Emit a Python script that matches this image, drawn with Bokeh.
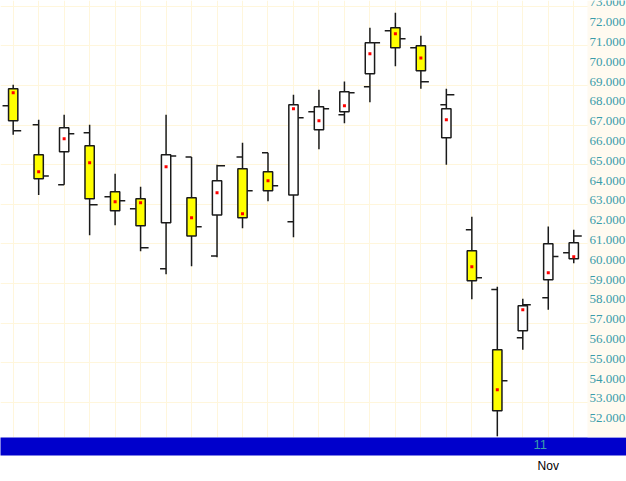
from bokeh.plotting import figure
from bokeh.models import (Range1d, LinearAxis, FixedTicker, Grid, LabelSet,
                          CustomJSTickFormatter, BoxAnnotation, ColumnDataSource)
from bokeh.embed import file_html
from bokeh.resources import INLINE
import numpy as np

# ---------------- data ----------------
day_index = list(range(23))
high   = [69.04, 67.27, 67.53, 67.02, 64.55, 63.89, 67.53, 65.40, 65.00, 66.11, 65.61, 68.54,
          68.79, 69.21, 71.92, 72.68, 71.52, 68.84, 62.37, 58.84, 58.23, 61.88, 61.72]
low    = [66.52, 63.48, 63.99, 61.44, 61.95, 60.64, 59.47, 59.88, 60.33, 61.80, 63.16, 61.34,
          65.79, 67.10, 68.16, 69.98, 68.84, 65.00, 58.21, 51.29, 55.66, 57.68, 60.03]
open_  = [68.84, 65.51, 65.66, 65.96, 63.64, 63.28, 62.07, 63.33, 62.47, 64.80, 64.65, 63.48,
          66.77, 67.68, 69.60, 71.92, 71.01, 66.36, 60.66, 55.66, 56.62, 59.19, 60.25]
close  = [67.22, 64.29, 66.87, 63.28, 62.68, 61.92, 65.51, 61.41, 64.19, 62.32, 63.69, 68.03,
          67.93, 68.69, 71.16, 70.91, 69.75, 67.83, 59.14, 52.58, 57.88, 61.01, 61.06]
bar_open  = [67.98, 67.02, 63.99, 66.62, 63.38, 62.78, 59.75, 65.40, 60.40, 65.40, 65.61, 62.12,
             67.68, 67.53, 68.94, 71.77, 70.91, 68.03, 61.72, 58.70, 56.26, 58.28, 60.56]
bar_close = [66.72, 64.44, 66.57, 62.98, 63.18, 60.81, 65.45, 61.87, 64.95, 63.69, 63.94, 67.37,
             67.83, 68.64, 71.16, 71.36, 69.19, 68.54, 59.29, 54.09, 57.93, 60.37, 61.41]
mid_price = [68.64, 64.65, 66.31, 65.10, 63.13, 63.08, 64.90, 62.32, 63.59, 62.53, 64.19, 67.83,
             67.22, 67.98, 70.61, 71.62, 70.40, 67.27, 59.85, 53.64, 57.68, 59.55, 60.35]

date_ticks = [21]
date_day_labels = ["11"]
date_month_labels = ["Nov"]
price_levels = list(range(52, 74))
price_labels = ["%.3f" % v for v in price_levels]
price_grid = list(range(53, 74, 2))

# ---------------- styling constants ----------------
PX_PER_DAY = 25.48
BODY_W = 9.3 / PX_PER_DAY
HALF_BODY = BODY_W / 2
TICK_L = 6.0 / PX_PER_DAY
TICK_R_IN = 5.5 / PX_PER_DAY
TICK_R_OUT = 8.0 / PX_PER_DAY
DAY_LABEL_SHIFT = 8.0 / PX_PER_DAY
LW = 1.5
INK = "#1a1a1a"
TEAL = "#3a9caa"
FONT = "Liberation Sans"
SCALE_LEFT = 587      # screen px where the price-scale strip starts
SCALE_TEXT_X = 589

x = np.array(day_index, dtype=float)
o = np.array(open_); c = np.array(close)
top = np.maximum(o, c); bot = np.minimum(o, c)
bo = np.array(bar_open); bc = np.array(bar_close)
in_l = (bo >= bot) & (bo <= top)
in_r = (bc >= bot) & (bc <= top)
l_x1 = x - np.where(in_l, HALF_BODY, 0.0)
l_x0 = l_x1 - TICK_L
r_x0 = x + np.where(in_r, HALF_BODY, 0.0)
r_x1 = r_x0 + np.where(in_r, TICK_R_IN, TICK_R_OUT)
fill = ["#ffff00" if cc < oo else "#ffffff" for oo, cc in zip(open_, close)]

src = ColumnDataSource(dict(x=x, high=high, low=low, top=top, bot=bot, fill=fill,
                            bo=bo, bc=bc, l_x0=l_x0, l_x1=l_x1, r_x0=r_x0, r_x1=r_x1,
                            mid=mid_price))

p = figure(width=626, height=481, output_backend="svg", toolbar_location=None,
           x_axis_type=None, y_axis_type=None,
           x_range=Range1d(-0.498, 24.07), y_range=Range1d(51.227, 73.298),
           min_border_left=0, min_border_top=0, min_border_right=0, min_border_bottom=44)
p.outline_line_color = None
p.background_fill_color = "#ffffff"
p.border_fill_color = "#ffffff"

p.add_layout(Grid(dimension=0, ticker=FixedTicker(ticks=day_index),
                  grid_line_color="#fff6dc", grid_line_width=1))
p.add_layout(Grid(dimension=1, ticker=FixedTicker(ticks=price_grid),
                  grid_line_color="#fff6dc", grid_line_width=1))

p.segment(x0="x", y0="low", x1="x", y1="high", source=src, line_color=INK, line_width=LW)
p.segment(x0="l_x0", y0="bo", x1="l_x1", y1="bo", source=src, line_color=INK, line_width=LW)
p.segment(x0="r_x0", y0="bc", x1="r_x1", y1="bc", source=src, line_color=INK, line_width=LW)
p.vbar(x="x", width=BODY_W, top="top", bottom="bot", source=src,
       fill_color="fill", line_color=INK, line_width=LW)
p.scatter(x="x", y="mid", source=src, marker="square", size=3,
          fill_color="#ff0000", line_color=None)

# price scale strip on the right
p.add_layout(BoxAnnotation(left=SCALE_LEFT, left_units="screen",
                           fill_color="#fffaf0", fill_alpha=1.0, line_color=None))
price_src = ColumnDataSource(dict(price=price_levels, text=price_labels))
p.add_layout(LabelSet(x=SCALE_TEXT_X, x_units="screen", y="price", text="text",
                      source=price_src, text_font=FONT, text_font_size="13px",
                      text_color=TEAL, text_align="left", text_baseline="alphabetic"))

LABEL_JS = "const i = pos.indexOf(Math.round(tick)); return i >= 0 ? names[i] : '';"

# blue date band (day numbers)
xax = LinearAxis(ticker=FixedTicker(ticks=[t - DAY_LABEL_SHIFT for t in date_ticks]),
                 formatter=CustomJSTickFormatter(
                     args=dict(pos=date_ticks, names=date_day_labels), code=LABEL_JS))
xax.axis_line_color = None
xax.major_tick_line_color = None
xax.minor_tick_line_color = None
xax.major_tick_out = 0
xax.major_tick_in = 0
xax.major_label_standoff = 2
xax.major_label_text_color = TEAL
xax.major_label_text_font = FONT
xax.major_label_text_font_size = "13px"
xax.axis_label = " "
xax.axis_label_standoff = 0
xax.axis_label_text_font_size = "1px"
xax.background_fill_color = "#0000cc"
p.add_layout(xax, "below")

# month row
mx = LinearAxis(ticker=FixedTicker(ticks=date_ticks),
                formatter=CustomJSTickFormatter(
                    args=dict(pos=date_ticks, names=date_month_labels), code=LABEL_JS))
mx.axis_line_color = None
mx.major_tick_line_color = None
mx.minor_tick_line_color = None
mx.major_tick_out = 0
mx.major_tick_in = 0
mx.major_label_standoff = 3
mx.major_label_text_color = "#000000"
mx.major_label_text_font = FONT
mx.major_label_text_font_size = "12px"
p.add_layout(mx, "below")

open("out.html", "w").write(file_html(p, INLINE))
